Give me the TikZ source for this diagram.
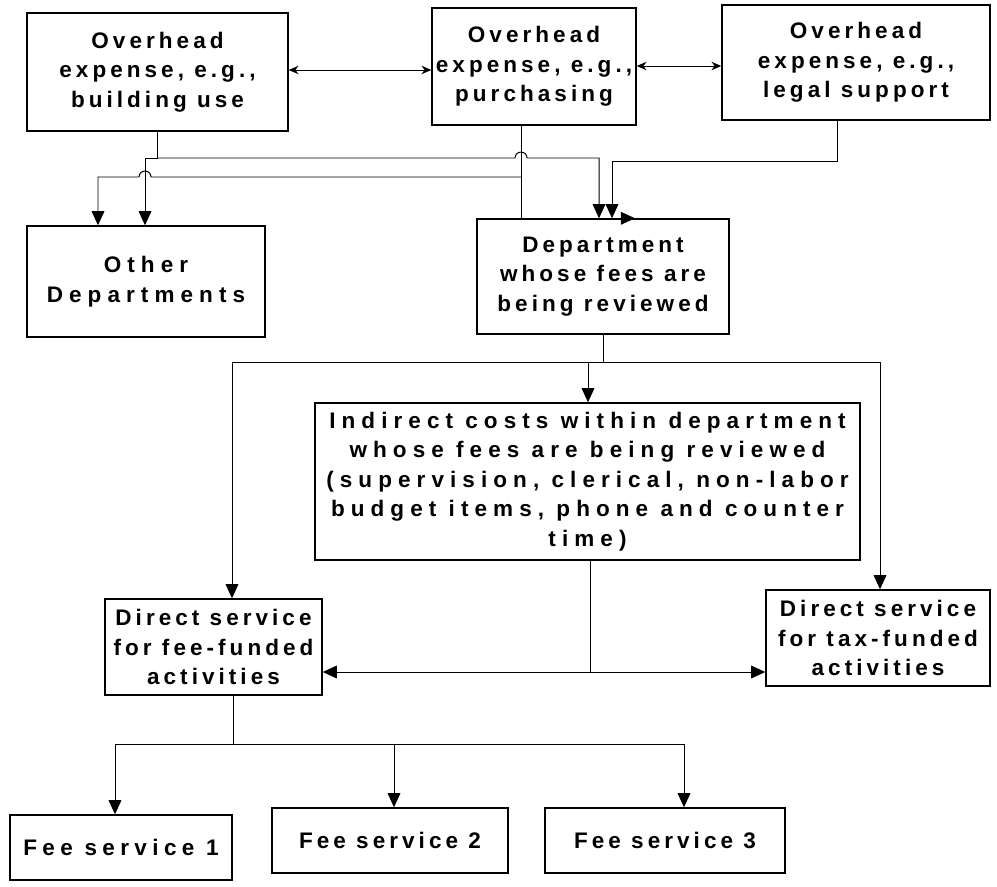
\documentclass[tikz,border=0pt]{standalone}
\usepackage{fontspec}
\setmainfont{Liberation Sans}[LetterSpace=18]
\usetikzlibrary{arrows.meta}
\tikzset{
  box/.style={draw, line width=1pt, align=center, inner sep=2pt,
    font=\bfseries\fontsize{16}{21}\selectfont},
  sz/.style 2 args={minimum width=#1*0.025cm, minimum height=#2*0.025cm},
  spread/.style={font=\bfseries\fontsize{16}{21}\selectfont\addfontfeatures{LetterSpace=#1}},
  link/.style={line width=0.7pt},
  arr/.style={link, -{Triangle[length=10pt,width=9pt]}},
  dbl/.style={link, {Stealth[length=7pt,width=6pt]}-{Stealth[length=7pt,width=6pt]}},
}
\begin{document}
\begin{tikzpicture}[x=0.025cm, y=-0.025cm]
\useasboundingbox (0,0) rectangle (997,886);

% overhead boxes
\node[box, sz={261}{118}] (bldg) at (157.5,72) {Overhead\\expense, e.g.,\\building use};
\node[box, sz={204}{117}] (purch) at (534,66.5) {Overhead\\expense, e.g.,\\purchasing};
\node[box, sz={268}{115}] (legal) at (856,62.5) {Overhead\\expense, e.g.,\\legal support};

% departments
\node[box, spread=27, sz={238}{111}] (other) at (146,281.5) {Other\\Departments};
\node[box, sz={252}{115}] (dept) at (603,276.5) {Department\\whose fees are\\being reviewed};
\node[box, spread=27, sz={545}{157}] (indir) at (587.5,481.5) {Indirect costs within department\\whose fees are being reviewed\\(supervision, clerical, non-labor\\budget items, phone and counter\\time)};

% direct services
\node[box, sz={217}{96}] (feefund) at (213.5,647) {Direct service\\for fee-funded\\activities};
\node[box, sz={224}{96}] (taxfund) at (878,638) {Direct service\\for tax-funded\\activities};

% fee services
\node[box, spread=24, sz={222}{65}] (fee1) at (121,847.5) {Fee service 1};
\node[box, sz={236}{65}] (fee2) at (390,840.5) {Fee service 2};
\node[box, sz={240}{65}] (fee3) at (665,840.5) {Fee service 3};

% top row
\draw[dbl] (bldg.east |- 0,70) -- (purch.west |- 0,70);
\draw[dbl] (purch.east |- 0,66) -- (legal.west |- 0,66);

% building use
\draw[arr] (bldg.south) |- (145,158) -- (145,0 |- other.north);
\draw[arr] (bldg.south |- 0,158) -- (515,158) arc (180:360:6) -- (599,158) -- (599,0 |- dept.north);

% purchasing
\draw[arr] (521,0 |- purch.south) -- (521,0 |- dept.north) -- (635,0 |- dept.north);
\draw[arr] (521,177) -- (151,177) arc (0:-180:6) -- (98,177) -- (98,0 |- other.north);

% legal support
\draw[arr] (837,0 |- legal.south) |- (612,161) -- (612,0 |- dept.north);

% department under review
\draw[arr] (dept.south) |- (232,362) -- (232,0 |- feefund.north);
\draw[arr] (dept.south) |- (880,362) -- (880,0 |- taxfund.north);
\draw[arr] (588,362) -- (588,0 |- indir.north);

% indirect costs
\coordinate (split) at (590,672);
\draw[link] (590,0 |- indir.south) -- (split);
\draw[arr] (split) -- (split -| feefund.east);
\draw[arr] (split) -- (split -| taxfund.west);

% fee services
\draw[link] (233,0 |- feefund.south) -- (233,744);
\draw[link] (115,744) -- (684,744);
\foreach \n/\x in {fee1/115, fee2/394, fee3/684}
  \draw[arr] (\x,744) -- (\x,0 |- \n.north);
\end{tikzpicture}
\end{document}
